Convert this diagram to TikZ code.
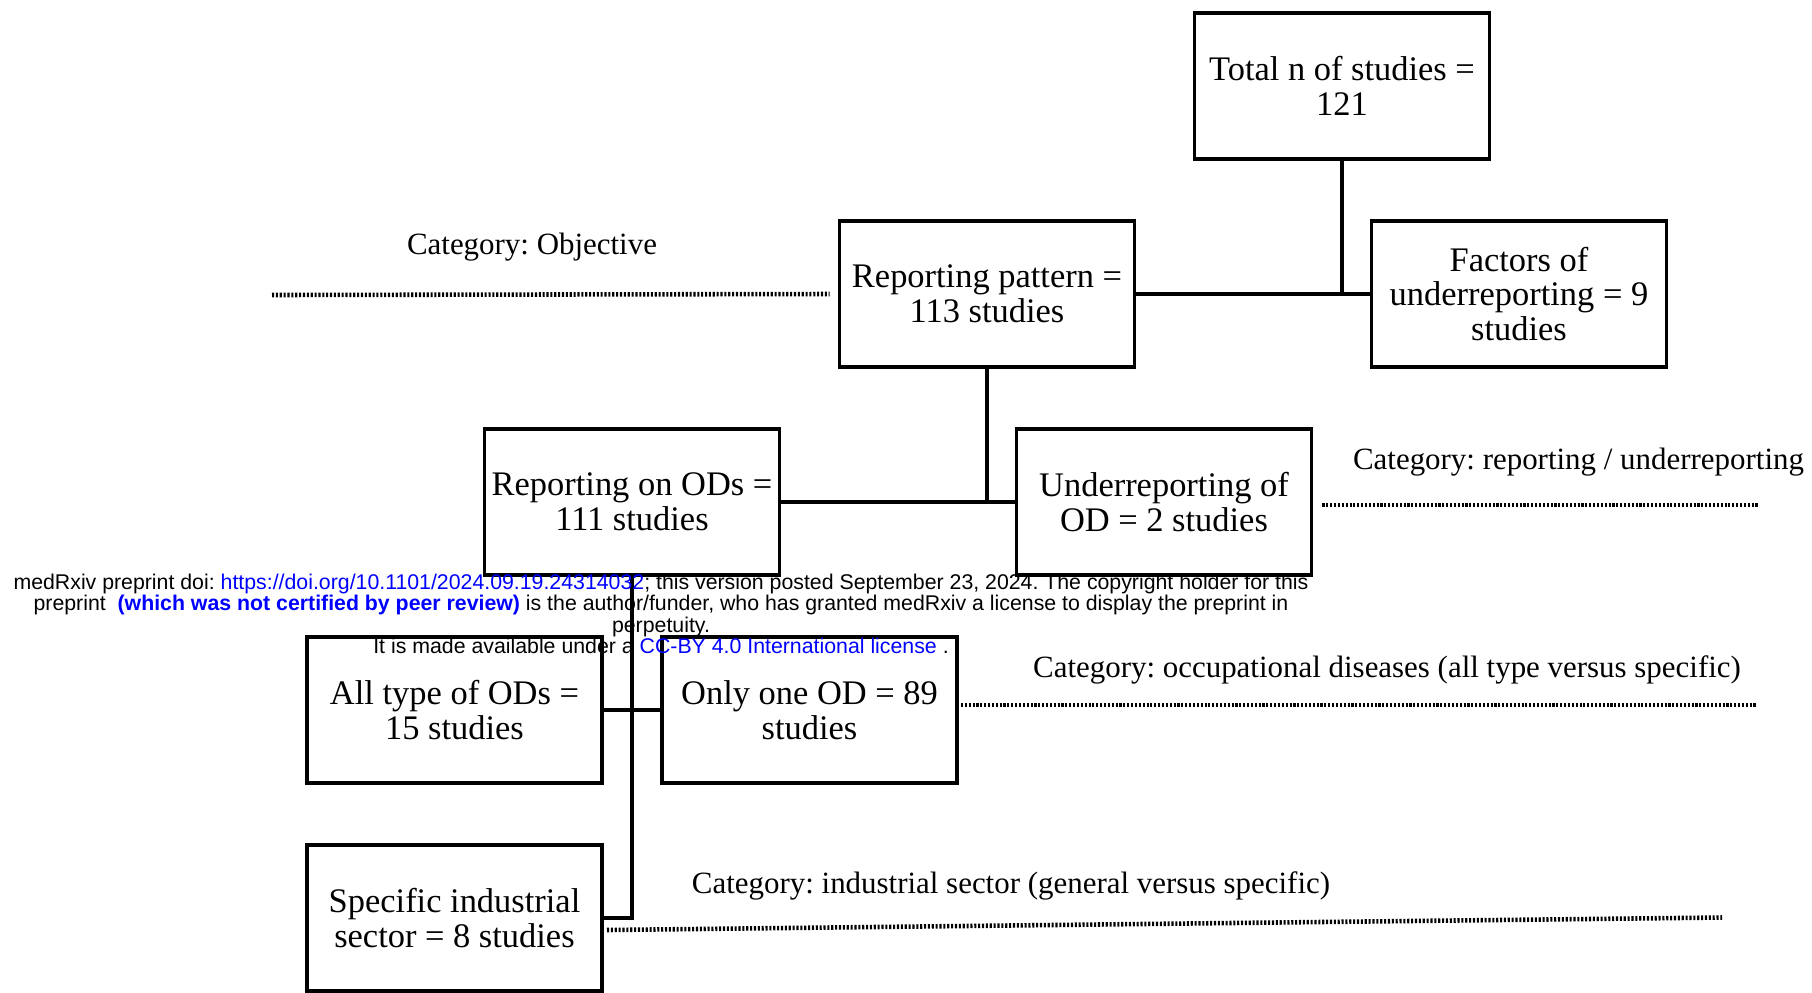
\documentclass[tikz,border=0pt]{standalone}
\usepackage{fontspec}
\setmainfont{Liberation Serif}
\newfontfamily\noticefont{Liberation Sans}
\usepackage{xcolor}
\usetikzlibrary{positioning}
\definecolor{linkblue}{RGB}{0,0,255}
\frenchspacing

\begin{document}
\begin{tikzpicture}[
            on grid, % centre to centre placement
            node distance = 2.08cm and 5.32cm, % row gap and column gap
            semithick % line style
        ]

        \tikzstyle{studybox}=[
            draw,
            rectangle,
            line width = 1.1pt,
            minimum width = 2.95cm,
            minimum height = 1.46cm,
            inner sep = 0pt,
            align = center,
            font = \fontsize{9.8}{9.9}\selectfont
        ]
        \tikzstyle{category}=[inner sep = 0pt, font = \fontsize{8.8}{10}\selectfont]
        \tikzstyle{link}=[line width = 1.1pt]
        \tikzstyle{dotline}=[line width = 1.3pt, dash pattern = on 0.6pt off 0.5pt]
        \tikzstyle{notice}=[align = center, inner sep = 0pt, font = \noticefont\fontsize{6.06}{6.1}\selectfont]

        \useasboundingbox (0,0) rectangle (18.12,-9.92);

	% total
        \node[studybox] (T) at (13.42,-0.86) {Total n of studies =\\121};

	% objective
        \node[studybox] (RP) [below left = 2.08cm and 3.55cm of T] {Reporting pattern =\\113 studies};
        \node[studybox] (F) [right = of RP] {Factors of\\underreporting = 9\\studies};

        \draw[link] (T.south) -- (T.south |- RP.east);
        \draw[link] (RP.east) -- (F.west);

        \node[category] (catObj) at (5.32,-2.475) {Category: Objective};
        \coordinate (objL) at (2.72,-2.95);
        \draw[dotline] (objL) -- ([xshift=-0.08cm]RP.west);

	% reporting / underreporting
        \node[studybox] (ROD) [below left = 2.08cm and 3.55cm of RP] {Reporting on ODs =\\111 studies};
        \node[studybox] (UR) [right = of ROD] {Underreporting of\\OD = 2 studies};

        \draw[link] (RP.south) -- (RP.south |- ROD.east);
        \draw[link] (ROD.east) -- (UR.west);

        \node[category, anchor = west] (catRep) at (13.52,-4.625) {Category: reporting / underreporting};
        \coordinate (repR) at (17.59,-5.05);
        \draw[dotline] ([xshift=0.09cm]UR.east |- repR) -- (repR);

	% occupational diseases
        \node[studybox] (AT) [below left = 2.08cm and 1.775cm of ROD] {All type of ODs =\\15 studies};
        \node[studybox] (OO) [right = 3.55cm of AT] {Only one OD = 89\\studies};

        \draw[link] (AT.east) -- (OO.west);

        \node[category] (catOcc) at (13.87,-6.695) {Category: occupational diseases (all type versus specific)};
        \coordinate (occR) at (17.57,-7.05);
        \draw[dotline] ([xshift=0.02cm]OO.east |- occR) -- (occR);

	% industrial sector
        \node[studybox] (SI) [below = of AT] {Specific industrial\\sector = 8 studies};

        \draw[link] (ROD.south) |- (SI.east);

        \node[category] (catInd) at (10.11,-8.855) {Category: industrial sector (general versus specific)};
        \coordinate (indL) at (6.07,-9.30);
        \coordinate (indR) at (17.22,-9.175);
        \draw[dotline] (indL) -- (indR);

	% preprint notice
        \node[notice] (wm) at (6.61,-6.14) {medRxiv preprint doi: \textcolor{linkblue}{https://doi.org/10.1101/2024.09.19.24314032}; this version posted September 23, 2024. The copyright holder for this\\
            preprint \ \textcolor{linkblue}{\bfseries (which was not certified by peer review)} is the author/funder, who has granted medRxiv a license to display the preprint in\\
            perpetuity.\\
            It is made available under a \textcolor{linkblue}{CC-BY 4.0 International license} .};

  \end{tikzpicture}
\end{document}
